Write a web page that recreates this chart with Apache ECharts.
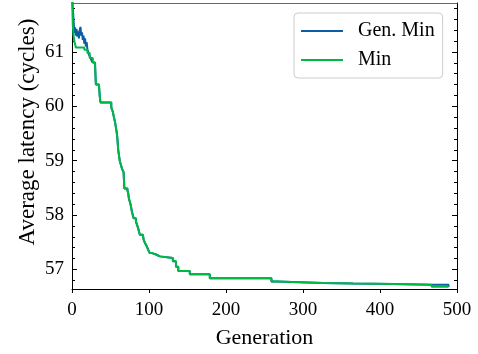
<!DOCTYPE html>
<html>
<head>
<meta charset="utf-8">
<script src="https://cdn.jsdelivr.net/npm/echarts@6.0.0/dist/echarts.min.js"></script>
<style>
  html, body { margin: 0; padding: 0; background: #fff; }
  #chart { width: 478px; height: 354px; }
</style>
</head>
<body>
<div id="chart"></div>
<script>
// running minimum (step changes: generation -> latency)
const minGens = [0, 1, 2, 3, 5, 16, 20, 23, 27, 30, 31, 35, 36, 37, 51, 53, 54, 56, 58, 59, 60, 62, 63, 65, 67, 68,
  72, 73, 74, 76, 78, 80, 83, 85, 87, 88, 92, 93, 95, 97, 99, 101, 104, 110, 114, 131, 135, 138, 153, 179,
  259, 266, 326, 365, 417, 467, 489];
const minVals = [62.1, 61.5, 61.3, 61.2, 61.08, 61.04, 60.98, 60.89, 60.8, 60.74, 60.4, 60.37, 60.19, 60.07, 59.98, 59.9, 59.83, 59.7, 59.53, 59.4, 59.2, 59.0, 58.95, 58.85, 58.79, 58.49,
  58.45, 58.4, 58.3, 58.2, 58.05, 57.94, 57.88, 57.8, 57.7, 57.64, 57.61, 57.55, 57.48, 57.43, 57.36, 57.3, 57.27, 57.24, 57.21, 57.15, 57.05, 56.97, 56.91, 56.84,
  56.78, 56.75, 56.74, 56.73, 56.72, 56.68, 56.68];

// generation minimum: noisy start, then follows the running min, differs at the end
const genMinHeadGens = [0, 1, 2, 3, 4, 5, 6, 7, 8, 9, 10, 11, 12, 13, 14, 15, 16, 17, 18, 19, 20, 21, 22, 23, 24, 25, 26];
const genMinHeadVals = [62.1, 61.8, 61.6, 61.35, 61.45, 61.3, 61.42, 61.28, 61.38, 61.25, 61.4, 61.46, 61.3, 61.36, 61.22, 61.3, 61.15, 61.25, 61.1, 61.18, 61.05, 61.02, 60.95, 60.92, 60.89, 60.86, 60.82];
const genMinTailGens = [467, 489];
const genMinTailVals = [56.72, 56.68];

const xTicks = [0, 100, 200, 300, 400, 500];
const yMajor = [57, 58, 59, 60, 61];
const yMinor = [56.8, 57.2, 57.4, 57.6, 57.8, 58.2, 58.4, 58.6, 58.8, 59.2, 59.4, 59.6, 59.8,
  60.2, 60.4, 60.6, 60.8, 61.2, 61.4, 61.6, 61.8];

const FONT = '"Liberation Serif", "DejaVu Serif", serif';

const minData = minGens.map((g, i) => [g, minVals[i]]);
const genMinData = genMinHeadGens.map((g, i) => [g, genMinHeadVals[i]])
  .concat(minData.filter(d => d[0] >= 27 && d[0] < 467))
  .concat(genMinTailGens.map((g, i) => [g, genMinTailVals[i]]));

const yBase = { type: 'value', min: 56.64, max: 61.9, splitLine: { show: false } };

const option = {
  animation: false,
  backgroundColor: '#fff',
  grid: { left: 72, right: 21, top: 3, bottom: 62 },
  legend: {
    orient: 'vertical',
    left: 294,
    top: 13,
    padding: [8, 8, 8, 7],
    itemGap: 9,
    itemWidth: 42,
    itemHeight: 2,
    icon: 'rect',
    borderColor: '#cccccc',
    borderWidth: 1,
    borderRadius: 4,
    backgroundColor: '#fff',
    textStyle: { fontFamily: FONT, fontSize: 20, color: '#000', lineHeight: 20, padding: [0, 0, 0, 10] },
    data: ['Gen. Min', 'Min']
  },
  xAxis: [
    {
      type: 'value', position: 'bottom', min: 0, max: 500, interval: 100,
      axisLine: { lineStyle: { color: '#000', width: 1 } },
      axisTick: { inside: false, length: 4, lineStyle: { color: '#000' } },
      axisLabel: { fontFamily: FONT, fontSize: 19, color: '#000', margin: 12, customValues: xTicks },
      splitLine: { show: false },
      name: 'Generation', nameLocation: 'middle', nameGap: 38,
      nameTextStyle: { fontFamily: FONT, fontSize: 22, color: '#000' }
    },
    {
      type: 'value', position: 'top', min: 0, max: 500,
      axisLine: { lineStyle: { color: '#666', width: 1 } },
      axisTick: { show: false }, axisLabel: { show: false }, splitLine: { show: false }
    }
  ],
  yAxis: [
    Object.assign({}, yBase, {
      position: 'left',
      axisLine: { lineStyle: { color: '#000', width: 1 } },
      axisTick: { inside: true, length: 5, customValues: yMajor, lineStyle: { color: '#000' } },
      axisLabel: { fontFamily: FONT, fontSize: 19, color: '#000', margin: 8, customValues: yMajor }
    }),
    Object.assign({}, yBase, {
      position: 'left',
      axisLine: { show: false },
      axisTick: { inside: true, length: 3, customValues: yMinor, lineStyle: { color: '#000' } },
      axisLabel: { show: false }
    }),
    Object.assign({}, yBase, {
      position: 'right',
      axisLine: { lineStyle: { color: '#000', width: 1 } },
      axisTick: { inside: true, length: 5, customValues: yMajor, lineStyle: { color: '#000' } },
      axisLabel: { show: false }
    }),
    Object.assign({}, yBase, {
      position: 'right',
      axisLine: { show: false },
      axisTick: { inside: true, length: 3, customValues: yMinor, lineStyle: { color: '#000' } },
      axisLabel: { show: false }
    })
  ],
  graphic: [{
    type: 'text',
    x: 28, y: 132,
    rotation: Math.PI / 2,
    style: {
      text: 'Average latency (cycles)',
      font: '23px "Liberation Serif", "DejaVu Serif", serif',
      fill: '#000',
      textAlign: 'center',
      textVerticalAlign: 'middle'
    }
  }],
  series: [
    {
      name: 'Gen. Min', type: 'line', step: 'end', symbol: 'none',
      xAxisIndex: 0, yAxisIndex: 0, clip: true,
      color: '#0C5DA5',
      lineStyle: { width: 2, color: '#0C5DA5' },
      data: genMinData
    },
    {
      name: 'Min', type: 'line', step: 'end', symbol: 'none',
      xAxisIndex: 0, yAxisIndex: 0, clip: true,
      color: '#00B945',
      lineStyle: { width: 2, color: '#00B945' },
      data: minData
    }
  ]
};

const chart = echarts.init(document.getElementById('chart'));
chart.setOption(option);
</script>
</body>
</html>
